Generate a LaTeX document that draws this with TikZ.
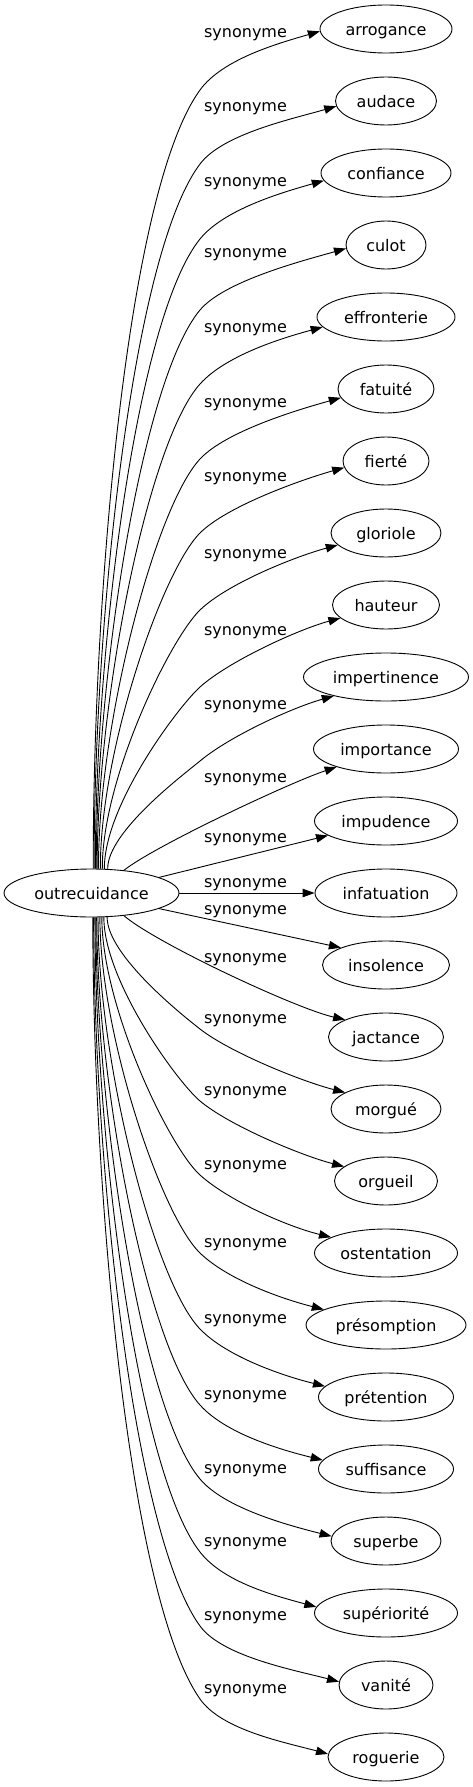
\documentclass[tikz,border=0pt]{standalone}
\usepackage{fontspec}
\setmainfont{DejaVu Sans}
\usetikzlibrary{arrows.meta,shapes.geometric}
\begin{document}
\begin{tikzpicture}[x=1pt,y=-1pt,
  term/.style={draw, ellipse, inner sep=0pt, minimum height=48pt,
    text height=13pt, text depth=0pt, line width=0.9pt,
    font=\fontsize{16}{19}\selectfont},
  lbl/.style={anchor=base, inner sep=0pt, font=\fontsize{16}{19}\selectfont},
  edge/.style={line width=0.9pt, -{Triangle[length=12pt,width=8.5pt]}}]
\useasboundingbox (0,0) rectangle (473,1787);
\node[term, minimum width=175pt] (o) at (91.5,893) {outrecuidance};
\foreach \txt/\dia [count=\i from 0] in {arrogance/132, audace/101, confiance/130,
  culot/80, effronterie/138, fatuité/96, fierté/86, gloriole/110, hauteur/107,
  impertinence/165, importance/145, impudence/143, infatuation/142, insolence/127,
  jactance/115, morgué/110, orgueil/103, ostentation/143, présomption/160,
  prétention/135, suffisance/135, superbe/110, supériorité/143, vanité/94, roguerie/116}
  \node[term, minimum width=\dia pt] (t\i) at (386,29+72*\i) {\txt};
\foreach \lab [count=\k from 0] in {33,107,182,253,327,402,476,553,630,704,777,837,882,
  909,957,1018,1090,1164,1242,1318,1394,1468,1541,1615,1688}
  \node[lbl] (l\k) at (245.5,\lab+5) {synonyme};
% upper steep edges
\foreach \i/\lab/\sx/\dd/\ang/\rx in {0/33/93/3/54/66, 1/107/94/6/53/50.5,
  2/182/95/8/51/65, 3/253/96/4/50/40, 4/327/97/10/48/69, 5/402/98/9/47/48,
  6/476/100/7/45/43, 7/553/102/12/44/55, 8/630/104/13/42/53.5, 9/704/107/19/40/82.5} {
  \pgfmathsetmacro\sy{893-24*sqrt(1-((\sx-91.5)/87.5)^2)}
  \pgfmathtruncatemacro\sang{atan2(893-\sy,\sx-91.5)}
  \pgfmathsetmacro\Ey{\lab+57}
  \pgfmathsetmacro\dy{\sy-\Ey}
  \pgfmathsetmacro\cAy{\sy-0.35*\dy}
  \pgfmathsetmacro\h{max(0.16*\dy,14)}
  \pgfmathsetmacro\cBx{200-\h*cos(\ang)}
  \pgfmathsetmacro\cBy{\Ey+\h*sin(\ang)}
  \pgfmathsetmacro\cCx{200+38*cos(\ang)}
  \pgfmathsetmacro\cCy{\Ey-38*sin(\ang)}
  \pgfmathsetmacro\w{\rx*sqrt(1-(\dd/24)^2)}
  \pgfmathsetmacro\cDx{386-\w-43.47}
  \pgfmathsetmacro\cDy{29+72*\i+\dd+11.65}
  \pgfmathtruncatemacro\tang{180+atan(\dd/\w)}
  \draw[edge] (o.\sang) .. controls (\sx,\cAy) and (\cBx,\cBy) .. (200,\Ey)
    .. controls (\cCx,\cCy) and (\cDx,\cDy) .. (t\i.\tang);
}
% lower steep edges
\foreach \i/\lab/\sx/\dd/\ang/\rx in {15/1018/107/-16/38/55, 16/1090/104/-14/40/51.5,
  17/1164/102/-15/42/71.5, 18/1242/100/-15/44/80, 19/1318/98/-10/46/67.5,
  20/1394/97/-8/48/67.5, 21/1468/96/-4/50/55, 22/1541/95/-6/52/71.5,
  23/1615/94/-3/54/47, 24/1688/93/-3/55/58} {
  \pgfmathsetmacro\sy{893+24*sqrt(1-((\sx-91.5)/87.5)^2)}
  \pgfmathtruncatemacro\sang{360-atan2(\sy-893,\sx-91.5)}
  \pgfmathsetmacro\Ey{\lab+11}
  \pgfmathsetmacro\dy{\Ey-\sy}
  \pgfmathsetmacro\cAy{\sy+0.35*\dy}
  \pgfmathsetmacro\h{max(0.16*\dy,14)}
  \pgfmathsetmacro\cBx{200-\h*cos(\ang)}
  \pgfmathsetmacro\cBy{\Ey-\h*sin(\ang)}
  \pgfmathsetmacro\cCx{200+38*cos(\ang)}
  \pgfmathsetmacro\cCy{\Ey+38*sin(\ang)}
  \pgfmathsetmacro\w{\rx*sqrt(1-(\dd/24)^2)}
  \pgfmathsetmacro\cDx{386-\w-43.47}
  \pgfmathsetmacro\cDy{29+72*\i+\dd-11.65}
  \pgfmathtruncatemacro\tang{180+atan(\dd/\w)}
  \draw[edge] (o.\sang) .. controls (\sx,\cAy) and (\cBx,\cBy) .. (200,\Ey)
    .. controls (\cCx,\cCy) and (\cDx,\cDy) .. (t\i.\tang);
}
% near-horizontal edges
\draw[edge] (o.35) .. controls (154.5,846) and (290,782.5) .. (t10.200);
\draw[edge] (o.13) -- (t11.194);
\draw[edge] (o.east) -- (t12.west);
\draw[edge] (o.347) -- (t13.159);
\draw[edge] (o.325) .. controls (157.5,944) and (296.7,1008.8) .. (t14.157);
\end{tikzpicture}
\end{document}
